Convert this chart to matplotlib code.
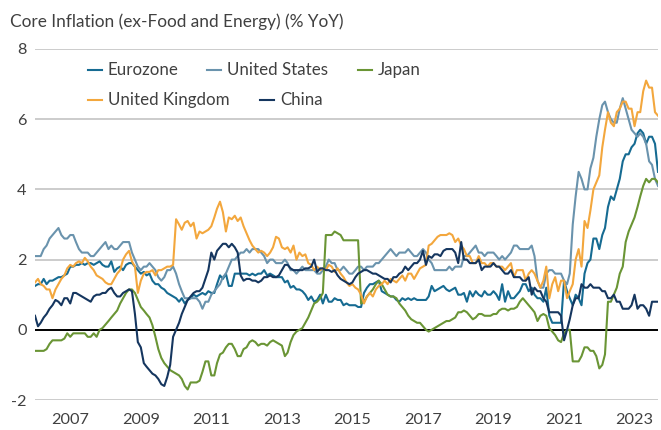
import matplotlib
matplotlib.use("Agg")
import matplotlib.pyplot as plt
from matplotlib.lines import Line2D
import pandas as pd

# ---------------- data (monthly, Jan 2006 - Sep 2023) ----------------
start_month = "2006-01-01"

eurozone = [
    1.25,1.3,1.3,1.45,1.3,1.4,1.4,1.45,1.5,1.5,1.55,1.6,
    1.8,1.8,1.85,1.85,1.9,1.85,1.9,1.9,1.85,1.9,1.95,1.85,
    1.8,1.8,1.95,1.65,1.75,1.8,1.7,1.85,1.9,1.9,1.8,1.7,
    1.6,1.65,1.55,1.6,1.4,1.3,1.3,1.2,1.15,1.05,1.0,0.95,
    0.9,0.8,0.9,0.75,0.85,0.9,1.0,0.95,1.0,1.05,1.0,1.1,
    1.05,1.05,1.3,1.55,1.45,1.6,1.25,1.25,1.6,1.6,1.6,1.6,
    1.6,1.55,1.6,1.55,1.6,1.6,1.7,1.55,1.6,1.55,1.5,1.5,
    1.5,1.35,1.4,1.2,1.25,1.15,1.15,1.1,1.0,0.85,0.95,0.8,
    0.85,1.0,0.75,1.0,0.8,0.8,0.9,0.85,0.85,0.7,0.75,0.7,
    0.7,0.7,0.65,0.65,1.05,1.2,1.3,1.3,1.35,1.4,1.1,1.05,
    1.0,0.95,0.95,0.85,0.8,0.9,0.85,0.9,0.85,0.9,0.85,0.85,
    0.85,0.85,0.95,1.25,1.1,1.15,1.2,1.25,1.15,1.1,1.15,1.2,
    1.0,1.0,1.05,0.8,1.1,0.95,1.1,1.0,0.95,1.1,1.0,1.0,
    1.1,1.0,0.85,1.3,0.8,1.1,0.9,0.9,1.0,1.1,1.3,1.3,
    1.1,1.2,1.0,0.9,0.9,0.8,1.2,0.4,0.2,0.2,0.2,0.2,
    1.4,1.1,0.9,0.7,1.0,0.9,0.7,1.6,1.9,2.0,2.6,2.6,
    2.3,2.7,2.9,3.5,3.8,3.7,4.0,4.3,4.8,5.0,5.0,5.2,
    5.3,5.6,5.7,5.6,5.3,5.5,5.5,5.3,4.5,
]

united_states = [
    2.1,2.1,2.1,2.3,2.4,2.6,2.7,2.8,2.9,2.7,2.6,2.6,
    2.7,2.7,2.5,2.3,2.2,2.2,2.2,2.1,2.1,2.2,2.3,2.4,
    2.5,2.3,2.4,2.3,2.3,2.4,2.5,2.5,2.5,2.2,2.0,1.8,
    1.7,1.8,1.8,1.9,1.8,1.7,1.5,1.4,1.5,1.7,1.7,1.8,
    1.6,1.3,1.1,0.9,0.9,0.9,0.9,0.9,0.8,0.6,0.8,0.8,
    1.0,1.1,1.2,1.3,1.5,1.6,1.8,2.0,2.0,2.1,2.2,2.2,
    2.3,2.2,2.3,2.3,2.3,2.2,2.1,1.9,2.0,2.0,1.9,1.9,
    1.9,2.0,1.9,1.7,1.7,1.6,1.7,1.8,1.7,1.7,1.7,1.7,
    1.6,1.6,1.7,1.8,2.0,1.9,1.9,1.7,1.7,1.8,1.7,1.6,
    1.6,1.7,1.8,1.8,1.7,1.8,1.8,1.8,1.9,1.9,2.0,2.1,
    2.2,2.3,2.2,2.1,2.2,2.2,2.2,2.3,2.2,2.1,2.1,2.2,
    2.3,2.2,2.0,1.9,1.7,1.7,1.7,1.7,1.7,1.8,1.7,1.8,
    1.8,1.8,2.1,2.1,2.2,2.3,2.4,2.2,2.2,2.1,2.2,2.2,
    2.2,2.1,2.0,2.1,2.0,2.1,2.2,2.4,2.4,2.3,2.3,2.3,
    2.3,2.4,2.1,1.4,1.2,1.2,1.6,1.7,1.7,1.6,1.6,1.6,
    1.4,1.3,1.6,3.0,3.8,4.5,4.3,4.0,4.0,4.6,4.9,5.5,
    6.0,6.4,6.5,6.2,6.0,5.9,5.9,6.3,6.6,6.3,6.0,5.7,
    5.6,5.5,5.6,5.5,5.3,4.8,4.7,4.3,4.1,
]

japan = [
    -0.6,-0.6,-0.6,-0.6,-0.55,-0.4,-0.3,-0.3,-0.3,-0.3,-0.25,-0.1,
    -0.2,-0.1,-0.1,-0.1,-0.1,-0.1,-0.2,-0.2,-0.1,-0.2,0.0,0.05,
    0.15,0.25,0.35,0.45,0.55,0.75,0.9,1.05,1.15,1.15,1.05,0.85,
    0.65,0.55,0.45,0.35,0.13,-0.2,-0.55,-0.8,-0.95,-1.05,-1.15,-1.2,
    -1.25,-1.3,-1.4,-1.6,-1.7,-1.5,-1.5,-1.5,-1.45,-1.2,-0.9,-0.9,
    -1.3,-1.3,-0.95,-0.7,-0.65,-0.5,-0.4,-0.4,-0.55,-0.75,-0.75,-0.55,
    -0.5,-0.35,-0.3,-0.35,-0.45,-0.4,-0.4,-0.45,-0.35,-0.3,-0.35,-0.4,
    -0.45,-0.75,-0.65,-0.35,-0.15,-0.05,0.0,0.05,0.2,0.35,0.55,0.75,
    0.8,0.9,1.05,2.7,2.7,2.7,2.8,2.75,2.7,2.55,2.55,2.55,
    2.55,2.55,2.55,0.75,0.8,0.95,1.05,1.15,1.3,1.4,1.3,1.15,
    1.0,0.95,0.95,0.9,0.75,0.65,0.55,0.4,0.3,0.25,0.2,0.2,
    0.1,0.0,-0.05,0.0,0.05,0.1,0.15,0.2,0.25,0.25,0.3,0.35,
    0.5,0.5,0.55,0.5,0.4,0.3,0.35,0.45,0.45,0.4,0.4,0.4,
    0.45,0.45,0.55,0.6,0.6,0.55,0.6,0.6,0.65,0.8,0.9,0.8,
    0.7,0.6,0.5,0.25,0.4,0.45,0.4,0.05,-0.05,-0.15,-0.3,-0.35,
    -0.1,0.0,0.0,-0.9,-0.9,-0.9,-0.75,-0.5,-0.5,-0.6,-0.6,-0.75,
    -1.1,-1.0,-0.7,0.8,0.8,1.0,1.2,1.6,1.8,2.5,2.8,3.0,
    3.2,3.5,3.8,4.1,4.3,4.2,4.3,4.3,4.2,
]

united_kingdom = [
    1.35,1.45,1.3,1.25,1.15,1.15,0.9,1.15,1.3,1.45,1.55,1.75,
    1.85,1.8,1.9,1.95,1.9,2.05,1.95,1.8,1.7,1.55,1.5,1.45,
    1.35,1.3,1.3,1.45,1.6,1.7,2.0,2.15,2.25,1.95,1.8,1.05,
    1.4,1.6,1.65,1.65,1.7,1.55,1.7,1.7,1.75,1.8,1.8,1.85,
    3.15,3.0,2.85,3.05,3.1,2.95,3.05,2.6,2.8,2.75,2.8,2.85,
    2.95,3.2,3.45,3.65,3.35,2.8,3.2,3.15,3.25,3.1,3.2,2.95,
    2.75,2.55,2.4,2.3,2.2,2.25,2.2,2.1,2.2,2.35,2.65,2.6,
    2.35,2.3,2.35,2.2,2.4,2.0,2.2,2.1,2.15,1.9,1.85,1.7,
    1.8,1.7,1.75,1.7,1.85,1.8,1.65,1.75,1.6,1.5,1.35,1.25,
    1.3,1.2,1.15,1.0,0.75,0.95,1.05,0.95,1.15,1.25,1.3,1.4,
    1.3,1.45,1.4,1.35,1.45,1.55,1.4,1.6,1.6,1.45,1.6,1.75,
    1.8,1.85,2.4,2.45,2.55,2.65,2.7,2.7,2.7,2.75,2.7,2.5,
    2.6,2.4,2.3,2.1,2.1,1.9,1.9,2.1,1.9,1.9,1.8,1.9,
    1.9,1.8,1.8,1.8,1.7,1.8,1.9,1.5,1.7,1.7,1.7,1.4,
    1.6,1.7,1.6,1.4,1.2,1.4,1.8,0.9,1.3,1.5,1.1,1.4,
    1.4,0.9,1.1,1.3,2.0,2.3,1.8,3.1,2.9,3.4,4.0,4.2,
    4.4,5.2,5.7,6.2,5.9,5.8,6.2,6.3,6.5,6.5,6.3,6.3,
    5.8,6.2,6.2,6.8,7.1,6.9,6.9,6.2,6.1,
]

china = [
    0.4,0.1,0.2,0.35,0.45,0.6,0.7,0.85,0.8,0.7,0.9,0.9,
    0.75,1.05,1.05,1.0,0.95,0.9,0.85,0.8,0.95,1.0,1.0,1.05,
    1.05,1.15,1.2,1.05,0.95,0.95,1.05,1.1,1.15,1.1,0.45,-0.35,
    -0.5,-0.95,-1.05,-1.15,-1.25,-1.3,-1.4,-1.55,-1.6,-1.35,-1.0,-0.2,
    0.0,0.2,0.45,0.65,0.85,0.95,1.05,1.1,1.1,1.2,1.45,1.7,
    2.2,2.0,2.25,2.35,2.45,2.45,2.35,2.45,2.35,2.2,1.55,1.4,
    1.45,1.45,1.4,1.4,1.35,1.4,1.5,1.5,1.55,1.5,1.5,1.55,
    1.7,1.85,1.85,1.75,1.7,1.7,1.7,1.7,1.75,1.75,1.8,2.0,
    1.65,1.75,1.75,1.7,1.7,1.65,1.7,1.55,1.45,1.4,1.35,1.3,
    1.35,1.5,1.6,1.65,1.7,1.7,1.65,1.6,1.6,1.55,1.5,1.45,
    1.45,1.35,1.5,1.5,1.6,1.65,1.8,1.7,1.8,1.9,1.9,2.0,
    2.25,1.85,2.1,2.05,2.15,2.15,2.1,2.25,2.3,2.3,2.3,2.2,
    1.9,2.5,2.0,2.0,1.9,1.9,1.9,2.0,1.7,1.8,1.8,1.8,
    1.9,1.8,1.8,1.7,1.6,1.6,1.7,1.5,1.5,1.5,1.4,1.4,
    1.5,1.0,1.2,1.1,1.1,0.9,0.8,0.5,0.5,0.5,0.5,0.4,
    -0.3,0.0,0.3,0.7,0.9,0.9,1.3,1.2,1.2,1.3,1.2,1.2,
    1.2,1.1,1.1,0.9,0.9,1.0,0.8,0.8,0.6,0.6,0.6,0.7,
    1.0,0.6,0.7,0.7,0.6,0.4,0.8,0.8,0.8,
]

series_names = ["Eurozone", "United States", "Japan", "United Kingdom", "China"]
series_values = [eurozone, united_states, japan, united_kingdom, china]
series_colors = ["#166b92", "#6a93ad", "#6a9535", "#f3a73d", "#15365f"]

y_ticks = [-2, 0, 2, 4, 6, 8]
x_tick_years = [2007, 2009, 2011, 2013, 2015, 2017, 2019, 2021, 2023]
title_text = "Core Inflation (ex-Food and Energy) (% YoY)"

# ---------------- figure ----------------
W, H = 661, 430
plt.rcParams["font.family"] = ["Lato", "DejaVu Sans"]
text_color = "#404040"

fig = plt.figure(figsize=(W / 100, H / 100), dpi=100)
ax = fig.add_axes([35 / W, 30 / H, 623 / W, 351 / H])

dates = pd.date_range(start_month, periods=len(eurozone), freq="MS")

for name, vals, col in zip(series_names, series_values, series_colors):
    ax.plot(dates, vals, color=col, lw=1.5, solid_joinstyle="round", label=name, zorder=3)

ax.set_ylim(-2, 8)
ax.set_xlim(dates[0], dates[-1])
ax.set_yticks(y_ticks)
ax.set_yticklabels([str(v) for v in y_ticks])
ax.set_xticks([pd.Timestamp(f"{y}-01-01") for y in x_tick_years])
ax.set_xticklabels([str(y) for y in x_tick_years])

ax.grid(axis="y", color="#bfbfbf", lw=1.1, zorder=1)
ax.grid(axis="x", visible=False)
ax.axhline(0, color="black", lw=1.4, zorder=2)
for s in ax.spines.values():
    s.set_visible(False)
ax.tick_params(axis="both", length=0, colors=text_color, labelsize=10.5)
ax.tick_params(axis="y", pad=6)
ax.tick_params(axis="x", pad=9)

# title
title = fig.text(10 / W, 1 - 22 / H, title_text, ha="left", va="center",
                 fontsize=12, color=text_color)

# manual legend (two flowing rows as in reference)
legend_layout = [  # (name index, handle x-start px, row y px)
    (0, 88, 70), (1, 207, 70), (2, 358, 70),
    (3, 88, 100), (4, 260, 100),
]
leg_texts = []
for idx, x0, yrow in legend_layout:
    yf = 1 - yrow / H
    fig.add_artist(Line2D([x0 / W, (x0 + 14) / W], [yf, yf], transform=fig.transFigure,
                          color=series_colors[idx], lw=1.5))
    t = fig.text((x0 + 20) / W, yf, series_names[idx], ha="left", va="center",
                 fontsize=10.5, color=text_color)
    leg_texts.append(t)

# fit font sizes to reference text widths
fig.canvas.draw()
r = fig.canvas.get_renderer()
def fit(t, target):
    w = t.get_window_extent(r).width
    t.set_fontsize(t.get_fontsize() * target / w)
fit(title, 333)
fit(leg_texts[3], 122)
for t in leg_texts:
    t.set_fontsize(leg_texts[3].get_fontsize())
lab = ax.get_xticklabels()[0]
w = lab.get_window_extent(r).width
ax.tick_params(axis="both", labelsize=10.5 * 38 / w)

fig.savefig("out.png", dpi=100)
